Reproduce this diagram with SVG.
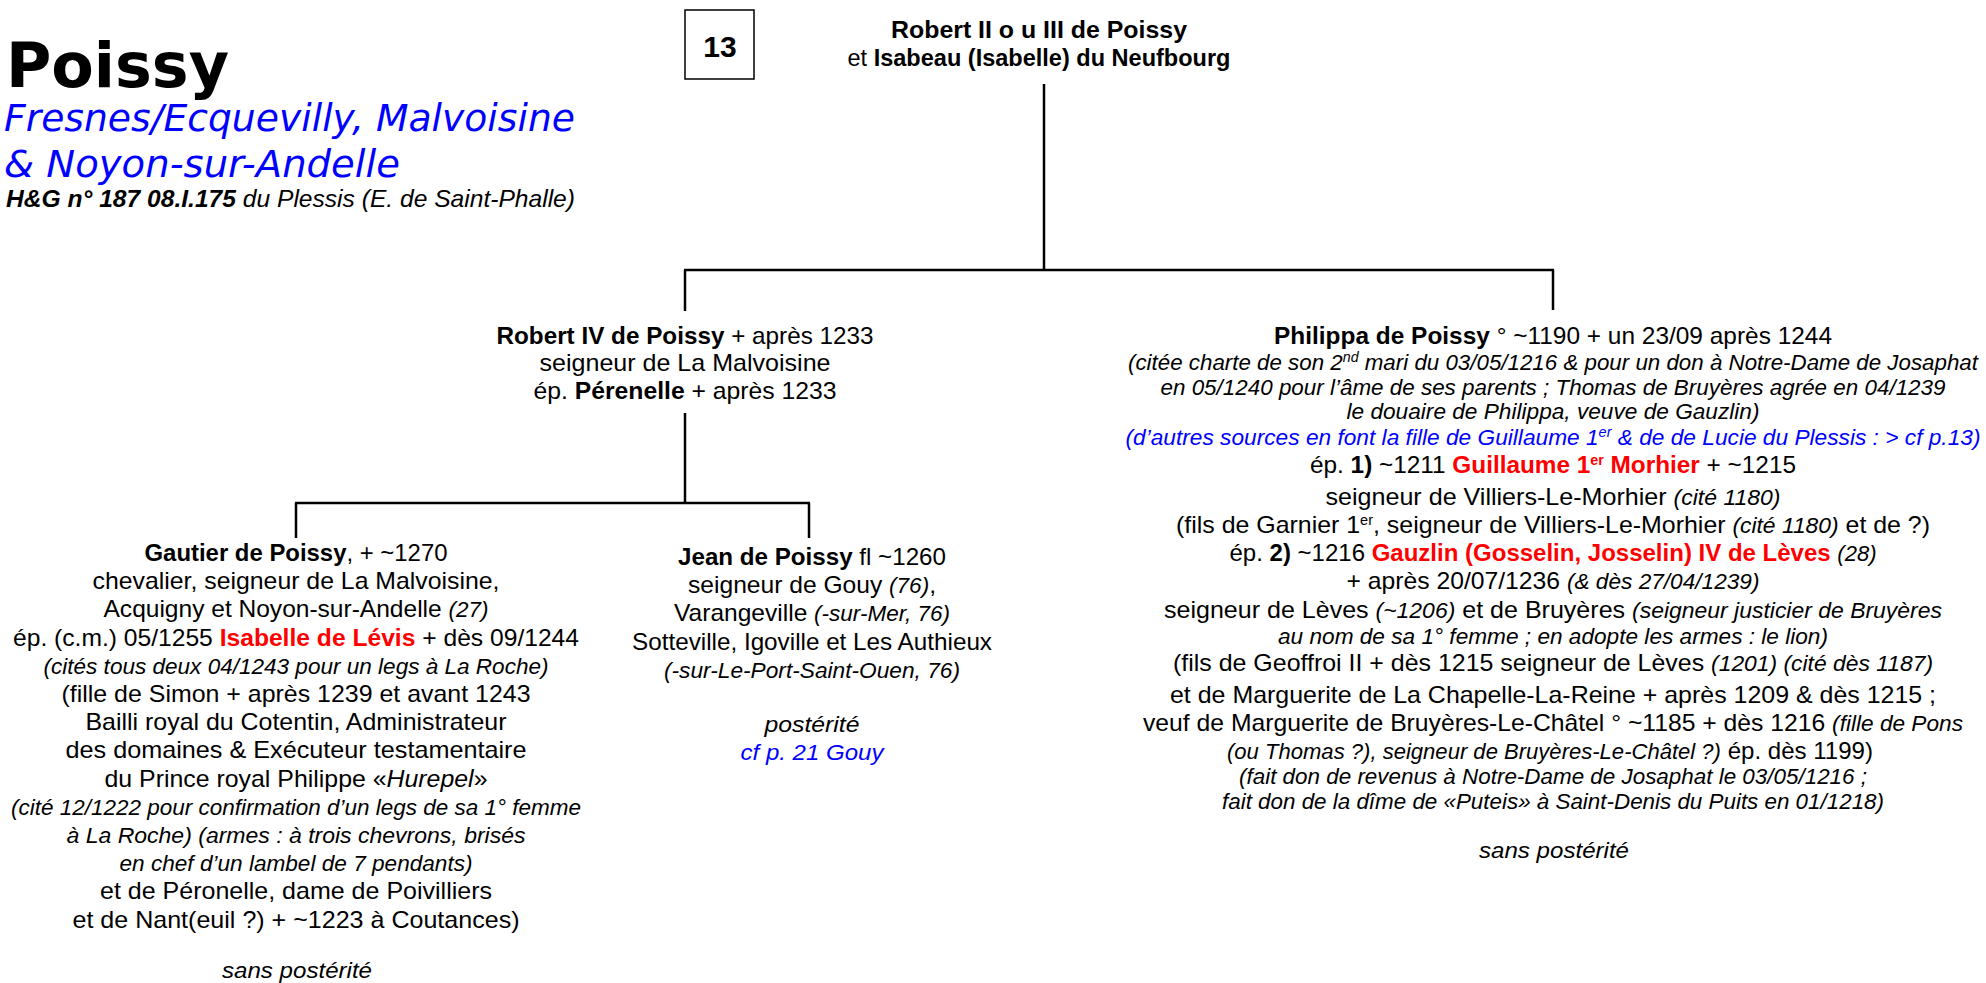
<svg xmlns="http://www.w3.org/2000/svg" width="1986" height="983" viewBox="0 0 1986 983">
<style>
.t{font-family:"Liberation Sans",Arial,sans-serif;font-size:24px;fill:#000;text-anchor:middle}
.b{font-weight:bold}
.i{font-style:italic;font-size:22px}
.red{fill:#FF0000;font-weight:bold}
.blue{fill:#0000FF}
.sup{font-size:14px}
.ttl{font-family:"DejaVu Sans",Verdana,sans-serif;font-weight:bold;font-size:62px;fill:#000}
.sub{font-family:"DejaVu Sans",Verdana,sans-serif;font-style:italic;font-size:37px;fill:#0000FF}
.ref{font-family:"Liberation Sans",Arial,sans-serif;font-style:italic;font-size:24px;fill:#000}
.ln{stroke:#000;stroke-width:2.5;fill:none}
</style>
<rect width="1986" height="983" fill="#FFFFFF"/>

<g id="title">
<text class="ttl" x="6" y="87" textLength="223" lengthAdjust="spacingAndGlyphs">Poissy</text>
<text class="sub" x="4" y="131" textLength="571" lengthAdjust="spacingAndGlyphs">Fresnes/Ecquevilly, Malvoisine</text>
<text class="sub" x="4" y="177" textLength="396" lengthAdjust="spacingAndGlyphs">&amp; Noyon-sur-Andelle</text>
<text class="ref" x="6" y="207" textLength="569" lengthAdjust="spacingAndGlyphs"><tspan font-weight="bold">H&amp;G n° 187 08.I.175</tspan> du Plessis (E. de Saint-Phalle)</text>
</g>

<g id="pagebox">
<rect x="685" y="10" width="69" height="69" fill="none" stroke="#000" stroke-width="1.5"/>
<text class="t b" x="720" y="57" style="font-size:30px">13</text>
</g>

<g id="connectors">
<line class="ln" x1="1044" y1="84" x2="1044" y2="271"/>
<line class="ln" x1="684" y1="270" x2="1554" y2="270"/>
<line class="ln" x1="685" y1="270" x2="685" y2="311"/>
<line class="ln" x1="1553" y1="270" x2="1553" y2="310"/>
<line class="ln" x1="685" y1="413" x2="685" y2="504"/>
<line class="ln" x1="295" y1="503" x2="810" y2="503"/>
<line class="ln" x1="296" y1="503" x2="296" y2="538"/>
<line class="ln" x1="809" y1="503" x2="809" y2="538"/>
</g>

<g id="node-robert-ii">
<text class="t b" x="1039" y="38" textLength="296" lengthAdjust="spacingAndGlyphs">Robert II o u III de Poissy</text>
<text class="t" x="1039" y="66" textLength="383" lengthAdjust="spacingAndGlyphs">et <tspan class="b">Isabeau (Isabelle) du Neufbourg</tspan></text>
</g>

<g id="node-robert-iv">
<text class="t" x="685" y="344" textLength="377" lengthAdjust="spacingAndGlyphs"><tspan class="b">Robert IV de Poissy</tspan> + après 1233</text>
<text class="t" x="685" y="371" textLength="291" lengthAdjust="spacingAndGlyphs">seigneur de La Malvoisine</text>
<text class="t" x="685" y="399" textLength="303" lengthAdjust="spacingAndGlyphs">ép. <tspan class="b">Pérenelle</tspan> + après 1233</text>
</g>

<g id="node-gautier">
<text class="t" x="296" y="561" textLength="303" lengthAdjust="spacingAndGlyphs"><tspan class="b">Gautier de Poissy</tspan>, + ~1270</text>
<text class="t" x="296" y="589" textLength="407" lengthAdjust="spacingAndGlyphs">chevalier, seigneur de La Malvoisine,</text>
<text class="t" x="296" y="617" textLength="385" lengthAdjust="spacingAndGlyphs">Acquigny et Noyon-sur-Andelle <tspan class="i">(27)</tspan></text>
<text class="t" x="296" y="646" textLength="566" lengthAdjust="spacingAndGlyphs">ép. (c.m.) 05/1255 <tspan class="red">Isabelle de Lévis</tspan> + dès 09/1244</text>
<text class="t i" x="296" y="674" textLength="505" lengthAdjust="spacingAndGlyphs">(cités tous deux 04/1243 pour un legs à La Roche)</text>
<text class="t" x="296" y="702" textLength="469" lengthAdjust="spacingAndGlyphs">(fille de Simon + après 1239 et avant 1243</text>
<text class="t" x="296" y="730" textLength="421" lengthAdjust="spacingAndGlyphs">Bailli royal du Cotentin, Administrateur</text>
<text class="t" x="296" y="758" textLength="461" lengthAdjust="spacingAndGlyphs">des domaines &amp; Exécuteur testamentaire</text>
<text class="t" x="296" y="787" textLength="383" lengthAdjust="spacingAndGlyphs">du Prince royal Philippe «<tspan font-style="italic">Hurepel</tspan>»</text>
<text class="t i" x="296" y="815" textLength="570" lengthAdjust="spacingAndGlyphs">(cité 12/1222 pour confirmation d’un legs de sa 1° femme</text>
<text class="t i" x="296" y="843" textLength="459" lengthAdjust="spacingAndGlyphs">à La Roche) (armes : à trois chevrons, brisés</text>
<text class="t i" x="296" y="871" textLength="353" lengthAdjust="spacingAndGlyphs">en chef d’un lambel de 7 pendants)</text>
<text class="t" x="296" y="899" textLength="392" lengthAdjust="spacingAndGlyphs">et de Péronelle, dame de Poivilliers</text>
<text class="t" x="296" y="928" textLength="447" lengthAdjust="spacingAndGlyphs">et de Nant(euil ?) + ~1223 à Coutances)</text>
<text class="t i" x="297" y="978" textLength="150" lengthAdjust="spacingAndGlyphs">sans postérité</text>
</g>

<g id="node-jean">
<text class="t" x="812" y="565" textLength="268" lengthAdjust="spacingAndGlyphs"><tspan class="b">Jean de Poissy</tspan> fl ~1260</text>
<text class="t" x="812" y="593" textLength="248" lengthAdjust="spacingAndGlyphs">seigneur de Gouy <tspan class="i">(76)</tspan>,</text>
<text class="t" x="812" y="621" textLength="276" lengthAdjust="spacingAndGlyphs">Varangeville <tspan class="i">(-sur-Mer, 76)</tspan></text>
<text class="t" x="812" y="650" textLength="360" lengthAdjust="spacingAndGlyphs">Sotteville, Igoville et Les Authieux</text>
<text class="t i" x="812" y="678" textLength="296" lengthAdjust="spacingAndGlyphs">(-sur-Le-Port-Saint-Ouen, 76)</text>
<text class="t i" x="812" y="732" textLength="95" lengthAdjust="spacingAndGlyphs">postérité</text>
<text class="t i blue" x="812" y="760" textLength="143" lengthAdjust="spacingAndGlyphs">cf p. 21 Gouy</text>
</g>

<g id="node-philippa">
<text class="t" x="1553" y="344" textLength="558" lengthAdjust="spacingAndGlyphs"><tspan class="b">Philippa de Poissy</tspan> ° ~1190 + un 23/09 après 1244</text>
<text class="t i" x="1553" y="370" textLength="850" lengthAdjust="spacingAndGlyphs">(citée charte de son 2<tspan class="sup" baseline-shift="super">nd</tspan> mari du 03/05/1216 &amp; pour un don à Notre-Dame de Josaphat</text>
<text class="t i" x="1553" y="395" textLength="785" lengthAdjust="spacingAndGlyphs">en 05/1240 pour l’âme de ses parents ; Thomas de Bruyères agrée en 04/1239</text>
<text class="t i" x="1553" y="419" textLength="413" lengthAdjust="spacingAndGlyphs">le douaire de Philippa, veuve de Gauzlin)</text>
<text class="t i blue" x="1553" y="445" textLength="855" lengthAdjust="spacingAndGlyphs">(d’autres sources en font la fille de Guillaume 1<tspan class="sup" baseline-shift="super">er</tspan> &amp; de de Lucie du Plessis : &gt; cf p.13)</text>
<text class="t" x="1553" y="473" textLength="486" lengthAdjust="spacingAndGlyphs">ép. <tspan class="b">1)</tspan> ~1211 <tspan class="red">Guillaume 1<tspan class="sup" baseline-shift="super">er</tspan> Morhier</tspan> + ~1215</text>
<text class="t" x="1553" y="505" textLength="455" lengthAdjust="spacingAndGlyphs">seigneur de Villiers-Le-Morhier <tspan class="i">(cité 1180)</tspan></text>
<text class="t" x="1553" y="533" textLength="754" lengthAdjust="spacingAndGlyphs">(fils de Garnier 1<tspan class="sup" baseline-shift="super">er</tspan>, seigneur de Villiers-Le-Morhier <tspan class="i">(cité 1180)</tspan> et de ?)</text>
<text class="t" x="1553" y="561" textLength="647" lengthAdjust="spacingAndGlyphs">ép. <tspan class="b">2)</tspan> ~1216 <tspan class="red">Gauzlin (Gosselin, Josselin) IV de Lèves</tspan> <tspan class="i">(28)</tspan></text>
<text class="t" x="1553" y="589" textLength="413" lengthAdjust="spacingAndGlyphs">+ après 20/07/1236 <tspan class="i">(&amp; dès 27/04/1239)</tspan></text>
<text class="t" x="1553" y="618" textLength="778" lengthAdjust="spacingAndGlyphs">seigneur de Lèves <tspan class="i">(~1206)</tspan> et de Bruyères <tspan class="i">(seigneur justicier de Bruyères</tspan></text>
<text class="t i" x="1553" y="644" textLength="550" lengthAdjust="spacingAndGlyphs">au nom de sa 1° femme ;  en adopte les armes : le lion)</text>
<text class="t" x="1553" y="671" textLength="760" lengthAdjust="spacingAndGlyphs">(fils de Geoffroi II + dès 1215 seigneur de Lèves <tspan class="i">(1201) (cité dès 1187)</tspan></text>
<text class="t" x="1553" y="703" textLength="766" lengthAdjust="spacingAndGlyphs">et de Marguerite de La Chapelle-La-Reine + après 1209 &amp; dès 1215 ;</text>
<text class="t" x="1553" y="731" textLength="820" lengthAdjust="spacingAndGlyphs">veuf de Marguerite de Bruyères-Le-Châtel ° ~1185 + dès 1216 <tspan class="i">(fille de Pons</tspan></text>
<text class="t" x="1550" y="759" textLength="646" lengthAdjust="spacingAndGlyphs"><tspan class="i">(ou Thomas ?), seigneur de Bruyères-Le-Châtel ?)</tspan> ép. dès 1199)</text>
<text class="t i" x="1553" y="784" textLength="628" lengthAdjust="spacingAndGlyphs">(fait don de revenus à Notre-Dame de Josaphat le 03/05/1216 ;</text>
<text class="t i" x="1553" y="809" textLength="662" lengthAdjust="spacingAndGlyphs">fait don de la dîme de «Puteis» à Saint-Denis du Puits en 01/1218)</text>
<text class="t i" x="1554" y="858" textLength="150" lengthAdjust="spacingAndGlyphs">sans postérité</text>
</g>
</svg>
